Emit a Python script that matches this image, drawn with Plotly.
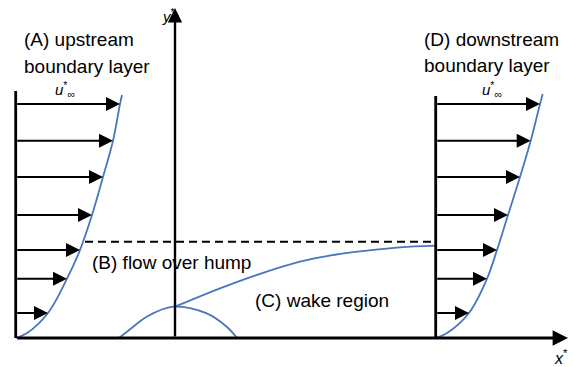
import plotly.graph_objects as go

# ---- data (schematic units: origin where x*-axis meets y*-axis, y up) ----
# upstream (A) velocity profile
up_wall_x = -159.3
up_arrow_y = [234, 197.3, 161, 123, 88, 59.3, 25]
up_arrow_len = [104.3, 97.3, 87.3, 76.3, 64.3, 51.3, 32.3]
up_curve_y = [0, 4.7, 25, 59.3, 88, 123, 161, 197.3, 234, 243]
up_curve_u = [0, 11, 32.3, 51.3, 64.3, 76.3, 87.3, 97.3, 104.3, 106.3]
up_wall_top = 247

# downstream (D) velocity profile
dn_wall_x = 260.7
dn_arrow_y = [234, 197.3, 161, 123, 88, 59.3, 25]
dn_arrow_len = [104.3, 95, 84.3, 72.3, 61.3, 51.3, 33.3]
dn_curve_y = [0, 4.7, 25, 59.3, 88, 123, 161, 197.3, 234, 244]
dn_curve_u = [0, 11, 33.3, 51.3, 61.3, 72.3, 84.3, 95, 104.3, 107]
dn_wall_top = 242

# hump (B)
hump_x = [-56, -41.7, -28.3, -1.7, 31.7, 51.7, 62]
hump_y = [0, 11.3, 21.3, 31.3, 24.7, 11.3, 0]

# wake edge (C)
wake_x = [0, 58.3, 125, 158.3, 191.7, 225, 260.7]
wake_y = [31.3, 54.7, 76.3, 83, 87.3, 90.7, 92.3]

# boundary-layer edge (dashed)
bl_edge_y = 96.3
bl_edge_x = [-90, 260.7]

# axes extents
x_axis = [-159.3, 393]
y_axis_top = 330

BLUE = "#4a76be"
FONT = "Liberation Sans, Arial, sans-serif"

fig = go.Figure()

def add_curve(xs, ys, **kw):
    fig.add_trace(go.Scatter(x=xs, y=ys, mode="lines",
                             line=dict(color=BLUE, width=1.8, shape="spline", smoothing=1.0),
                             hoverinfo="skip", showlegend=False, **kw))

# profile curves
add_curve([up_wall_x + u for u in up_curve_u], up_curve_y)
add_curve([dn_wall_x + u for u in dn_curve_u], dn_curve_y)
add_curve(hump_x, hump_y)
add_curve(wake_x, wake_y)

# dashed edge
fig.add_trace(go.Scatter(x=bl_edge_x, y=[bl_edge_y, bl_edge_y], mode="lines",
                         line=dict(color="black", width=2, dash="8px,5px"),
                         hoverinfo="skip", showlegend=False))

# walls
for wx, top in [(up_wall_x, up_wall_top), (dn_wall_x, dn_wall_top)]:
    fig.add_trace(go.Scatter(x=[wx, wx], y=[0, top], mode="lines",
                             line=dict(color="black", width=2.8),
                             hoverinfo="skip", showlegend=False))

annotations = []

def arrow(x0, y0, x1, y1, width=2, size=1.4):
    annotations.append(dict(x=x1, y=y1, ax=x0, ay=y0, xref="x", yref="y",
                            axref="x", ayref="y", text="", showarrow=True,
                            arrowhead=2, arrowsize=size, arrowwidth=width,
                            arrowcolor="black", standoff=0, startstandoff=0))

for y, L in zip(up_arrow_y, up_arrow_len):
    arrow(up_wall_x, y, up_wall_x + L, y)
for y, L in zip(dn_arrow_y, dn_arrow_len):
    arrow(dn_wall_x, y, dn_wall_x + L, y)

# coordinate axes
arrow(x_axis[0], 0, x_axis[1], 0, width=2.8, size=1.1)
arrow(0, 0, 0, y_axis_top, width=2.4, size=1.2)

def label(x, y, text, size=19, xanchor="left"):
    annotations.append(dict(x=x, y=y, xref="x", yref="y", text=text,
                            showarrow=False, xanchor=xanchor, yanchor="middle",
                            font=dict(family=FONT, size=size, color="black")))

label(-153, 299, "(A) upstream")
label(-153, 272, "boundary layer")
label(247, 299, "(D) downstream")
label(247, 273, "boundary layer")
label(-85, 75.3, "(B) flow over hump")
label(78, 38, "(C) wake region")
label(-122, 249, "<i>u</i><sup>*</sup><sub>∞</sub>", size=15)
label(305, 249, "<i>u</i><sup>*</sup><sub>∞</sub>", size=15)
label(2, 323, "<i>y</i><sup>*</sup>", size=15, xanchor="right")
label(377, -19, "<i>x</i><sup>*</sup>", size=16)

fig.update_layout(
    width=573, height=367,
    margin=dict(l=0, r=0, t=0, b=0),
    paper_bgcolor="white", plot_bgcolor="white",
    xaxis=dict(range=[-175, 398], visible=False, fixedrange=True),
    yaxis=dict(range=[-29, 338], visible=False, fixedrange=True),
    annotations=annotations,
    showlegend=False,
)

fig.write_html("out.html", config={"displayModeBar": False},
               post_script="document.body.style.margin='0';document.body.style.overflow='hidden';")
